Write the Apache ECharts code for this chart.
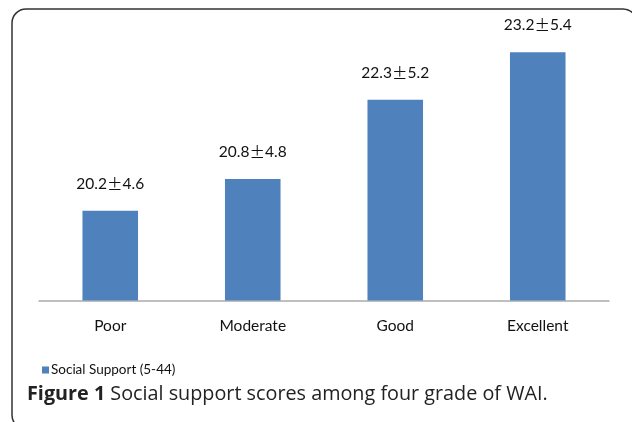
<!DOCTYPE html>
<html>
<head>
<meta charset="utf-8">
<script src="https://cdn.jsdelivr.net/npm/echarts@6/dist/echarts.min.js"></script>
<style>html,body{margin:0;padding:0;background:#fff;}#c{width:632px;height:422px;}</style>
</head>
<body>
<div id="c"></div>
<script>
const categories = ['Poor', 'Moderate', 'Good', 'Excellent'];
const means = [20.2, 20.8, 22.3, 23.2];
const sds = [4.6, 4.8, 5.2, 5.4];
const seriesName = 'Social Support (5-44)';

const chart = echarts.init(document.getElementById('c'), null, {renderer: 'canvas'});
const font = 'Lato, "Open Sans", sans-serif';
const titleFont = '"Open Sans", Lato, sans-serif';
chart.setOption({
  animation: false,
  backgroundColor: '#fff',
  graphic: [{
    type: 'rect',
    shape: {x: 12, y: 9, width: 625, height: 420, r: 14},
    style: {fill: 'none', stroke: '#333', lineWidth: 1.5},
    silent: true
  }],
  title: {
    left: 22, top: 379,
    text: '{b|Figure 1} Social support scores among four grade of WAI.',
    textStyle: {
      fontFamily: titleFont, fontSize: 19.8, color: '#222', fontWeight: 'normal',
      rich: {b: {fontFamily: titleFont, fontSize: 19.8, fontWeight: 'bold', color: '#222'}}
    }
  },
  legend: {
    left: 37, top: 358,
    itemWidth: 7, itemHeight: 7, itemGap: 6,
    icon: 'rect',
    data: [seriesName],
    textStyle: {fontFamily: font, fontSize: 13.5, color: '#111', padding: [0,0,0,-3]}
  },
  grid: {left: 39, right: 23, top: 10, bottom: 121.5, containLabel: false},
  xAxis: {
    type: 'category',
    data: categories,
    axisLine: {lineStyle: {color: '#aaa', width: 1.5}},
    axisTick: {show: false},
    axisLabel: {fontFamily: font, fontSize: 15.5, color: '#111', margin: 17}
  },
  yAxis: {
    type: 'value', min: 18.5, max: 24,
    show: false, splitLine: {show: false}
  },
  series: [{
    name: seriesName,
    type: 'bar',
    data: means,
    barWidth: '39%',
    itemStyle: {color: '#4F81BD'},
    label: {
      show: true, position: 'top', distance: 19,
      fontFamily: font, fontSize: 15.5, color: '#111',
      formatter: p => means[p.dataIndex].toFixed(1) + '{pm|±}' + sds[p.dataIndex].toFixed(1),
      rich: {pm: {fontFamily: '"Noto Sans CJK SC"', fontSize: 15.5, color: '#111'}}
    }
  }]
});
</script>
</body>
</html>
